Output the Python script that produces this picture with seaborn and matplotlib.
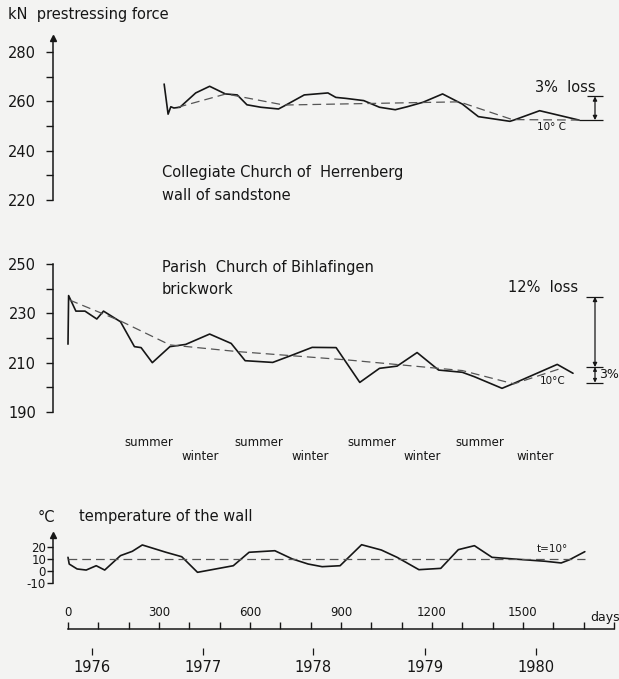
import numpy as np
import pandas as pd
import matplotlib
matplotlib.use("Agg")
import matplotlib.pyplot as plt
import seaborn as sns
from matplotlib.transforms import blended_transform_factory

# Herrenberg, wall of sandstone: prestressing force (kN) over days
herr_days = [317, 330, 339, 349, 369, 421, 467, 519, 558, 590, 636, 694, 714, 779, 857,
             883, 916, 975, 1027, 1079, 1118, 1170, 1235, 1300, 1353, 1457, 1470, 1555, 1685]
herr_force = [267.0, 254.8, 257.8, 257.3, 257.6, 263.4, 266.1, 263.0, 262.6, 258.6, 257.6,
              256.9, 258.2, 262.6, 263.4, 261.6, 261.2, 260.3, 257.6, 256.6, 257.8, 259.6,
              263.0, 258.9, 253.8, 251.9, 252.4, 256.2, 252.4]
# force reduced to 10 deg C (dashed)
herr_ref_days = [362, 521, 712, 1290, 1465, 1685]
herr_ref_force = [257.6, 263.0, 258.5, 259.8, 252.6, 252.4]
herr_loss = [262.0, 252.4]

# Bihlafingen, brickwork
bihl_days = [0, 2, 26, 56, 95, 117, 173, 219, 241, 278, 336, 388, 467, 538, 584, 675, 740,
             805, 884, 962, 1027, 1085, 1151, 1222, 1300, 1340, 1431, 1470, 1613, 1665]
bihl_force = [217.5, 237.2, 230.9, 230.9, 227.7, 230.9, 226.6, 216.5, 216.1, 210.0, 216.5,
              217.4, 221.6, 217.8, 210.8, 210.1, 213.1, 216.2, 216.1, 202.0, 207.7, 208.6,
              214.1, 207.0, 206.1, 204.3, 199.6, 201.6, 209.3, 205.7]
bihl_ref_days = [5, 173, 336, 558, 922, 1300, 1470, 1626]
bihl_ref_force = [235.4, 226.9, 217.2, 214.5, 211.1, 206.8, 201.4, 207.7]
bihl_loss = [236.7, 208.2, 201.9]

# temperature of the wall (deg C)
temp_days = [0, 4, 30, 60, 93, 121, 173, 212, 245, 323, 375, 427, 545, 597, 682, 740, 792,
             838, 897, 968, 1033, 1085, 1157, 1229, 1287, 1340, 1398, 1470, 1574, 1626, 1652, 1704]
temp_vals = [11.4, 5.8, 1.7, 0.8, 4.4, 0.8, 12.8, 16.4, 21.7, 15.6, 11.9, -1.1, 4.4, 15.6,
             16.9, 10.0, 5.8, 3.6, 4.4, 21.9, 17.5, 11.4, 1.1, 2.2, 17.8, 21.1, 11.4, 10.0,
             8.1, 6.7, 9.2, 16.1]
temp_ref = 10
temp_ref_days = [0, 1704]

summer_days = [265, 629, 1001, 1357]
winter_days = [437, 799, 1168, 1542]
year_days = [80, 444, 808, 1177, 1544]
year_labels = ["1976", "1977", "1978", "1979", "1980"]

# ---- layout (pixels) ----
W, H = 619, 679
X0, PPD = 68, 0.3033          # pixel of day 0, pixels per day
DAY_L = (53 - X0) / PPD
DAY_R = (W - X0) / PPD
INK = "#161616"
PAPER = "#f3f3f2"

sns.set_style("white")
plt.rcParams["font.family"] = ["DejaVu Sans"]
plt.rcParams["axes.unicode_minus"] = False

fig = plt.figure(figsize=(W / 100, H / 100), dpi=100, facecolor=PAPER)


def fx(px):
    return px / W


def fy(py):
    return 1 - py / H


def panel(top_px, bot_px, ref1, ref2):
    ax = fig.add_axes([fx(53), fy(bot_px), fx(W) - fx(53), (bot_px - top_px) / H])
    ax.set_facecolor("none")
    slope = (ref2[1] - ref1[1]) / (ref2[0] - ref1[0])
    ax.set_ylim(ref1[1] + (bot_px - ref1[0]) * slope, ref1[1] + (top_px - ref1[0]) * slope)
    ax.set_xlim(DAY_L, DAY_R)
    for s in ["top", "right", "bottom"]:
        ax.spines[s].set_visible(False)
    ax.spines["left"].set_color(INK)
    ax.spines["left"].set_linewidth(1.1)
    ax.set_xticks([])
    ax.set_xlabel("")
    ax.set_ylabel("")
    return ax


def txt(px, py, s, size=10.5, ha="left", **kw):
    fig.text(fx(px), fy(py), s, fontsize=size, ha=ha, va="center", color=INK, **kw)


line_kw = dict(color=INK, linewidth=1.2, sort=False, estimator=None)
dash_kw = dict(color="#555555", linewidth=0.9, sort=False, estimator=None, dashes=[(7, 4)])

# ---- top panel: Herrenberg ----
ax1 = panel(25, 215, (52, 280), (200, 220))
sns.lineplot(x=herr_days, y=herr_force, ax=ax1, **line_kw)
sns.lineplot(x=herr_ref_days, y=herr_ref_force, ax=ax1, style=[0] * len(herr_ref_days),
             legend=False, **dash_kw)
ax1.spines["left"].set_bounds(220, 285)
ax1.plot([0], [285.5], marker="^", ms=4.5, color=INK, transform=ax1.get_yaxis_transform(),
         clip_on=False)
ax1.set_yticks([220, 240, 260, 280])
ax1.set_yticks([230, 250, 270], minor=True)
ax1.tick_params(axis="y", which="both", direction="out", length=5, width=1, color=INK,
                labelsize=10.5, pad=7, labelcolor=INK, left=True)
bx = (595 - X0) / PPD
ax1.annotate("", xy=(bx, herr_loss[1]), xytext=(bx, herr_loss[0]),
             arrowprops=dict(arrowstyle="<|-|>", color=INK, lw=0.9, mutation_scale=6,
                             shrinkA=0, shrinkB=0))
ax1.hlines(herr_loss[0], (587 - X0) / PPD, (603 - X0) / PPD, color=INK, lw=0.9)
ax1.hlines(herr_loss[1], herr_days[-1], (603 - X0) / PPD, color=INK, lw=0.9)

# ---- middle panel: Bihlafingen ----
ax2 = panel(250, 425, (264, 250), (412, 190))
sns.lineplot(x=bihl_days, y=bihl_force, ax=ax2, **line_kw)
sns.lineplot(x=bihl_ref_days, y=bihl_ref_force, ax=ax2, style=[0] * len(bihl_ref_days),
             legend=False, **dash_kw)
ax2.spines["left"].set_bounds(190, 250)
ax2.set_yticks([190, 210, 230, 250])
ax2.set_yticks([200, 220, 240], minor=True)
ax2.tick_params(axis="y", which="both", direction="out", length=5, width=1, color=INK,
                labelsize=10.5, pad=7, labelcolor=INK, left=True)
ax2.annotate("", xy=(bx, bihl_loss[1]), xytext=(bx, bihl_loss[0]),
             arrowprops=dict(arrowstyle="<|-|>", color=INK, lw=0.9, mutation_scale=6,
                             shrinkA=0, shrinkB=0))
ax2.annotate("", xy=(bx, bihl_loss[2]), xytext=(bx, bihl_loss[1]),
             arrowprops=dict(arrowstyle="<|-|>", color=INK, lw=0.9, mutation_scale=5,
                             shrinkA=0, shrinkB=0))
for v in bihl_loss:
    ax2.hlines(v, (586 - X0) / PPD, (603 - X0) / PPD, color=INK, lw=0.9)

# ---- temperature panel ----
ax3 = panel(528, 592, (547, 20), (583, -10))
sns.lineplot(x=temp_days, y=temp_vals, ax=ax3, **line_kw)
sns.lineplot(x=temp_ref_days, y=[temp_ref] * len(temp_ref_days), ax=ax3,
             style=[0] * len(temp_ref_days), legend=False, **dash_kw)
ax3.spines["left"].set_bounds(-10, 29)
ax3.plot([0], [30], marker="^", ms=4.5, color=INK, transform=ax3.get_yaxis_transform(),
         clip_on=False)
ax3.set_yticks([-10, 0, 10, 20])
ax3.tick_params(axis="y", direction="out", length=4, width=1, color=INK,
                labelsize=8.5, pad=1, labelcolor=INK, left=True)

# ---- days axis with years ----
ax4 = fig.add_axes([fx(53), fy(679), fx(W) - fx(53), 50 / H])
ax4.set_facecolor("none")
ax4.set_xlim(DAY_L, DAY_R)
ax4.set_ylim(50, 0)
for s in ["left", "right", "bottom"]:
    ax4.spines[s].set_visible(False)
ax4.spines["top"].set_bounds(0, 1800)
ax4.spines["top"].set_color(INK)
ax4.spines["top"].set_linewidth(1.1)
ax4.xaxis.tick_top()
ax4.set_xticks(range(0, 1801, 100))
ax4.set_xticklabels([str(d) if d % 300 == 0 and d <= 1500 else "" for d in range(0, 1801, 100)])
ax4.tick_params(axis="x", direction="out", length=5, width=1, color=INK, labelsize=8.5,
                pad=2, labelcolor=INK)
ax4.set_yticks([])
ax4.vlines(year_days, 19, 26, color=INK, lw=0.9)
for d, lab in zip(year_days, year_labels):
    ax4.text(d, 39, lab, ha="center", va="center", fontsize=10.5, color=INK)
ax4.text((590 - X0) / PPD, -12, "days", ha="left", va="center", fontsize=9, color=INK,
         clip_on=False)

# seasons
tr = blended_transform_factory(ax2.transData, fig.transFigure)
for d in summer_days:
    fig.text(d, fy(443), "summer", transform=tr, ha="center", va="center", fontsize=8.5, color=INK)
for d in winter_days:
    fig.text(d, fy(457), "winter", transform=tr, ha="center", va="center", fontsize=8.5, color=INK)

# labels
txt(8, 14, "kN  prestressing force")
txt(162, 172, "Collegiate Church of  Herrenberg")
txt(162, 195, "wall of sandstone")
txt(535, 88, "3%  loss")
txt(537, 127, "10° C", size=7.5)
txt(162, 268, "Parish  Church of Bihlafingen")
txt(162, 290, "brickwork")
txt(508, 287, "12%  loss")
txt(540, 381, "10°C", size=7.5)
txt(599, 375, "3%", size=9)
txt(38, 517, "°C")
txt(79, 517, "temperature of the wall")
txt(552, 549, "t=10°", size=7.5, ha="center")

fig.savefig("out.png", dpi=100, facecolor=PAPER)
